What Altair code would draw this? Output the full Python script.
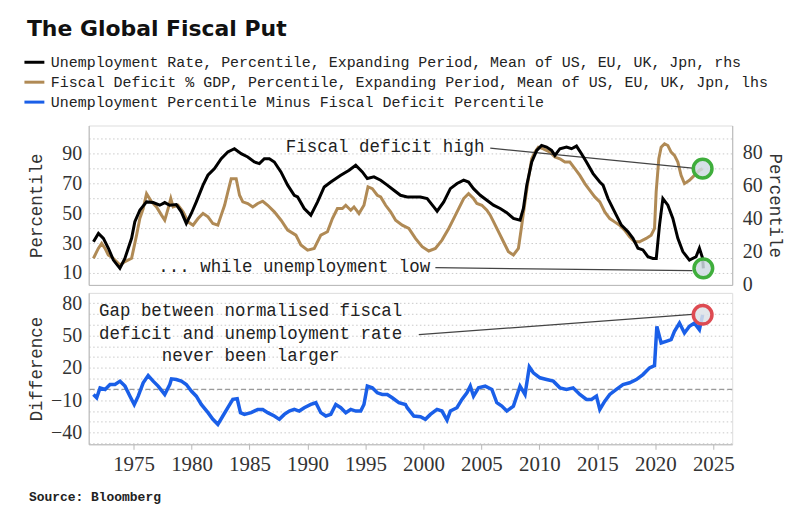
import altair as alt
import pandas as pd

# ---------------- data ----------------
series_names = [
    "Unemployment Rate, Percentile, Expanding Period, Mean of US, EU, UK, Jpn, rhs",
    "Fiscal Deficit % GDP, Percentile, Expanding Period, Mean of US, EU, UK, Jpn, lhs",
    "Unemployment Percentile Minus Fiscal Deficit Percentile",
]
series_colors = ["#000000", "#b08a55", "#1a5fe8"]

unemp_years = [1971.54, 1971.97, 1972.40, 1972.83, 1973.26, 1973.82, 1974.25, 1974.83, 1975.11, 1975.54,
               1976.12, 1976.69, 1977.26, 1977.69, 1978.12, 1978.69, 1979.12, 1979.55, 1979.98, 1980.41,
               1980.99, 1981.41, 1981.98, 1982.56, 1983.13, 1983.70, 1984.28, 1984.85, 1985.42, 1985.85,
               1986.28, 1986.71, 1987.14, 1987.71, 1988.29, 1988.86, 1989.15, 1989.72, 1990.29, 1990.87,
               1991.44, 1992.01, 1992.87, 1993.59, 1994.16, 1994.73, 1995.16, 1995.73, 1996.31, 1996.88,
               1997.45, 1998.02, 1998.60, 1999.17, 1999.74, 2000.32, 2000.89, 2001.18, 2001.75, 2002.32,
               2002.90, 2003.47, 2003.89, 2004.32, 2004.90, 2005.47, 2006.04, 2006.62, 2007.19, 2007.76,
               2008.33, 2008.62, 2008.91, 2009.34, 2009.77, 2010.19, 2010.62, 2011.05, 2011.34, 2011.77,
               2012.34, 2012.77, 2013.20, 2013.63, 2014.06, 2014.63, 2015.21, 2015.49, 2015.92, 2016.49,
               2017.07, 2017.64, 2018.07, 2018.50, 2018.93, 2019.36, 2019.79, 2020.08, 2020.36, 2020.65,
               2021.08, 2021.51, 2021.94, 2022.37, 2022.94, 2023.51, 2023.80, 2024.08, 2024.14]
unemp_vals = [26.1, 31.1, 28.1, 22.1, 15.0, 10.0, 16.0, 28.1, 38.1, 45.1,
              50.1, 49.7, 48.1, 49.7, 48.1, 48.5, 44.1, 37.1, 43.1, 50.1,
              60.2, 66.2, 70.2, 76.2, 80.2, 82.2, 79.2, 77.2, 74.2, 73.2,
              76.2, 76.2, 74.2, 68.2, 60.2, 54.1, 53.1, 46.1, 42.1, 50.1,
              59.1, 62.1, 66.2, 69.2, 72.2, 68.2, 64.2, 65.2, 63.2, 60.2,
              57.1, 54.1, 53.1, 53.1, 53.1, 52.1, 47.1, 44.5, 50.1, 58.1,
              61.2, 63.2, 62.1, 58.1, 54.1, 51.1, 48.1, 46.1, 43.6, 40.1,
              39.1, 46.1, 60.2, 74.2, 81.2, 84.2, 83.2, 81.2, 78.2, 82.2,
              83.2, 82.2, 83.8, 79.2, 74.2, 67.2, 62.1, 60.2, 52.1, 44.1,
              36.1, 32.1, 28.1, 22.1, 21.1, 17.0, 16.0, 16.0, 36.1, 52.1,
              48.1, 40.1, 28.1, 20.1, 15.0, 17.0, 22.1, 16.0, 10.0]

fiscal_years = [1971.54, 1971.96, 1972.25, 1972.54, 1972.82, 1973.25, 1973.83, 1974.26, 1974.83, 1975.26,
                1975.54, 1975.83, 1976.12, 1976.55, 1976.98, 1977.41, 1977.69, 1977.98, 1978.21, 1978.41,
                1978.84, 1979.27, 1979.70, 1980.13, 1980.56, 1980.99, 1981.42, 1981.84, 1982.27, 1982.56,
                1982.85, 1983.13, 1983.42, 1983.85, 1984.14, 1984.42, 1984.85, 1985.28, 1985.71, 1986.14,
                1986.57, 1987.14, 1987.72, 1988.29, 1989.00, 1989.43, 1990.01, 1990.58, 1991.15, 1991.72,
                1992.15, 1992.58, 1993.01, 1993.30, 1993.73, 1994.01, 1994.44, 1994.87, 1995.22, 1995.59,
                1996.02, 1996.31, 1996.74, 1997.17, 1997.60, 1998.17, 1998.74, 1999.31, 1999.89, 2000.46,
                2001.03, 2001.60, 2002.18, 2002.61, 2003.04, 2003.47, 2003.89, 2004.32, 2004.61, 2005.04,
                2005.47, 2005.76, 2006.19, 2006.62, 2006.90, 2007.33, 2007.76, 2008.19, 2008.48, 2008.76,
                2009.05, 2009.34, 2009.62, 2009.91, 2010.34, 2010.91, 2011.34, 2011.77, 2012.20, 2012.63,
                2013.06, 2013.49, 2013.92, 2014.35, 2014.78, 2015.21, 2015.64, 2016.07, 2016.49, 2016.92,
                2017.35, 2017.78, 2018.21, 2018.64, 2019.21, 2019.64, 2019.93, 2020.07, 2020.30, 2020.50,
                2020.79, 2021.08, 2021.36, 2021.65, 2021.94, 2022.22, 2022.51, 2022.94, 2023.37, 2023.80,
                2024.08]
fiscal_vals = [19.8, 26.4, 29.8, 26.4, 22.0, 19.8, 15.3, 17.6, 19.8, 35.3,
               46.4, 53.1, 63.1, 57.6, 54.2, 48.7, 45.3, 53.1, 59.8, 54.2,
               55.3, 50.9, 44.2, 42.0, 46.4, 49.8, 47.6, 43.1, 42.0, 48.7,
               55.3, 64.2, 73.1, 73.1, 62.0, 57.6, 56.5, 54.2, 56.5, 58.0,
               55.3, 50.9, 45.3, 38.7, 35.3, 28.7, 25.3, 26.4, 35.3, 37.6,
               46.4, 53.1, 53.1, 55.3, 52.0, 54.2, 49.8, 55.3, 67.6, 66.4,
               62.0, 60.9, 55.3, 50.9, 45.3, 42.0, 39.8, 33.1, 27.6, 24.7,
               26.4, 32.0, 39.8, 46.4, 53.1, 59.8, 63.1, 59.8, 56.5, 55.3,
               52.0, 48.7, 42.0, 35.3, 30.9, 24.2, 22.0, 26.4, 42.0, 57.6,
               73.1, 86.4, 90.9, 94.2, 93.1, 90.9, 87.6, 86.4, 84.2, 84.2,
               79.8, 75.3, 69.8, 65.3, 60.9, 57.6, 50.9, 46.4, 44.2, 42.0,
               38.7, 34.2, 30.9, 30.9, 33.1, 35.3, 39.8, 64.2, 86.4, 94.2,
               96.4, 95.3, 90.9, 88.7, 84.2, 75.3, 69.8, 72.0, 75.3, 78.7,
               79.8]

diff_years = [1971.54, 1971.82, 1972.11, 1972.54, 1972.97, 1973.40, 1973.83, 1974.26, 1974.69, 1975.06,
              1975.40, 1975.83, 1976.26, 1976.69, 1977.12, 1977.69, 1978.12, 1978.27, 1978.69, 1979.12,
              1979.55, 1979.98, 1980.41, 1980.84, 1981.42, 1981.84, 1982.27, 1982.70, 1983.13, 1983.56,
              1983.94, 1984.22, 1984.56, 1985.14, 1985.71, 1986.14, 1986.57, 1987.14, 1987.57, 1988.00,
              1988.43, 1988.86, 1989.29, 1989.72, 1990.29, 1990.72, 1991.15, 1991.58, 1992.01, 1992.44,
              1992.87, 1993.30, 1993.73, 1994.16, 1994.59, 1994.87, 1995.16, 1995.59, 1996.02, 1996.45,
              1996.88, 1997.31, 1997.88, 1998.45, 1998.60, 1999.17, 1999.74, 2000.17, 2000.60, 2001.17,
              2001.60, 2002.03, 2002.32, 2002.89, 2003.32, 2003.75, 2004.04, 2004.32, 2004.75, 2005.33,
              2005.90, 2006.33, 2006.76, 2007.19, 2007.76, 2008.33, 2008.76, 2009.13, 2009.48, 2010.05,
              2010.62, 2011.20, 2011.77, 2012.34, 2012.91, 2013.49, 2014.06, 2014.49, 2014.92, 2015.21,
              2015.64, 2016.07, 2016.64, 2017.21, 2017.78, 2018.36, 2018.93, 2019.50, 2019.93, 2020.13,
              2020.50, 2020.93, 2021.36, 2021.65, 2022.08, 2022.51, 2022.94, 2023.37, 2023.80, 2024.08]
diff_vals = [-4.6, -7.7, 1.5, 0.0, 4.6, 4.6, 7.7, 3.1, -6.2, -13.9,
             -6.2, 6.2, 12.9, 7.7, 3.1, -4.6, 4.6, 9.8, 9.2, 7.7,
             4.6, -1.5, -6.2, -13.9, -21.5, -27.7, -32.3, -24.6, -16.9, -9.2,
             -8.6, -21.5, -23.1, -21.5, -18.5, -18.5, -21.5, -24.6, -27.7, -23.1,
             -20.0, -18.5, -20.0, -16.9, -13.9, -12.3, -21.5, -24.6, -23.1, -13.9,
             -16.9, -21.5, -18.5, -20.0, -20.0, -13.9, 3.1, 1.5, -3.1, -4.6,
             -4.6, -7.7, -12.3, -13.9, -16.9, -24.6, -25.2, -27.7, -23.1, -18.5,
             -20.0, -28.3, -20.0, -16.9, -9.2, -3.1, 3.1, -6.2, 1.5, 3.1,
             0.0, -12.3, -15.4, -20.0, -15.4, 3.1, -4.6, 20.9, 15.4, 10.8,
             9.2, 7.7, 1.5, 0.0, 1.5, -4.6, -9.2, -9.2, -6.2, -18.5,
             -10.8, -4.6, 0.0, 4.6, 6.2, 9.2, 13.8, 20.0, 22.1, 58.5,
             43.1, 44.6, 46.2, 53.8, 61.5, 52.3, 58.5, 61.5, 55.4, 69.2]

x_ticks = [1975, 1980, 1985, 1990, 1995, 2000, 2005, 2010, 2015, 2020, 2025]
left_ticks = [10, 20, 30, 40, 50, 60, 70, 80, 90, 100]
right_ticks = [0, 20, 40, 60, 80]
diff_ticks = [-50, -40, -30, -20, -10, 0, 10, 20, 30, 40, 50, 60, 70, 80]
zero_line = [0]

top_note_texts = ["Fiscal deficit high", "... while unemployment low"]
top_note_x = [1996.7, 1988.86]
top_note_y = [94.2, 14.2]
top_link_x = [2005.76, 2001.03]
top_link_y = [93.5, 13.5]
top_link_x2 = [2023.2, 2023.2]
top_link_y2 = [80.2, 11.5]

gap_text = ["Gap between normalised fiscal\ndeficit and unemployment rate\nnever been larger"]
gap_x = [1985.1]
gap_y = [72.3]
gap_link_x = [1999.6]
gap_link_y = [50.8]
gap_link_x2 = [2023.2]
gap_link_y2 = [69.5]

# ---------------- styling ----------------
SERIF = "Liberation Serif"
MONO = "Liberation Mono"
AXIS_GRAY = "#b8b8b8"
GRID_GRAY = "#c9c9c9"

fiscal_df = pd.DataFrame({"year": fiscal_years, "value": fiscal_vals, "series": series_names[1]})
unemp_df = pd.DataFrame({"year": unemp_years, "value": unemp_vals, "series": series_names[0]})
diff_df = pd.DataFrame({"year": diff_years, "value": diff_vals, "series": series_names[2]})

top_notes_df = pd.DataFrame({"year": top_note_x, "value": top_note_y, "label": top_note_texts})
top_links_df = pd.DataFrame({"year": top_link_x, "value": top_link_y, "year2": top_link_x2, "value2": top_link_y2})
gap_df = pd.DataFrame({"year": gap_x, "value": gap_y, "label": gap_text})
gap_link_df = pd.DataFrame({"year": gap_link_x, "value": gap_link_y, "year2": gap_link_x2, "value2": gap_link_y2})
fiscal_end_df = pd.DataFrame({"year": fiscal_years[-1:], "value": fiscal_vals[-1:]})
unemp_end_df = pd.DataFrame({"year": unemp_years[-1:], "value": unemp_vals[-1:]})
diff_end_df = pd.DataFrame({"year": diff_years[-1:], "value": diff_vals[-1:]})
zero_df = pd.DataFrame({"value": zero_line})

xscale = alt.Scale(domain=[1971.13, 2026.63], nice=False, zero=False)
left_scale = alt.Scale(domain=[2, 108.7], nice=False, zero=False)
right_scale = alt.Scale(domain=[0, 96.2], nice=False, zero=False)
diff_scale = alt.Scale(domain=[-50.8, 89.5], nice=False, zero=False)

x_axis_top = alt.Axis(labels=False, ticks=False, grid=False, domainColor=AXIS_GRAY, title=None)
x_axis_bottom = alt.Axis(values=x_ticks, format="d", labelFont=SERIF, labelFontSize=21, labelColor="#333333",
                         tickSize=5, tickColor=AXIS_GRAY, domainColor=AXIS_GRAY, grid=False, labelPadding=4,
                         labelFlush=False, title=None)

common_y = dict(ticks=False, domainColor=AXIS_GRAY, labelFont=SERIF, labelFontSize=20, labelColor="#333333",
                titleFont=MONO, titleFontSize=17.5, titleFontWeight="normal", titleColor="#333333",
                titleBaseline="middle", titleAlign="center")

left_axis = alt.Axis(values=left_ticks, labelExpr="datum.value % 20 == 10 ? datum.label : ''",
                     grid=True, gridColor=GRID_GRAY, gridDash=[1.5, 2.5], labelPadding=7,
                     title="Percentile", titleX=-52, titleY=80, titleAngle=270, **common_y)
right_axis = alt.Axis(values=right_ticks, orient="right", grid=False, labelPadding=10,
                      title="Percentile", titleX=42, titleY=80, titleAngle=90, **common_y)
diff_axis = alt.Axis(values=diff_ticks, labelExpr="(datum.value + 40) % 30 == 0 ? datum.label : ''",
                     grid=True, gridColor=GRID_GRAY, gridDash=[1.5, 2.5], labelPadding=7,
                     title="Difference", titleX=-52, titleY=76, titleAngle=270, **common_y)

color = alt.Color("series:N", scale=alt.Scale(domain=series_names, range=series_colors),
                  legend=alt.Legend(orient="none", legendX=-66, legendY=-75, direction="vertical", title=None,
                                    symbolType="stroke", symbolStrokeWidth=3, symbolSize=400,
                                    labelFont=MONO, labelFontSize=15, labelColor="#222222",
                                    labelOffset=5, rowPadding=-1, labelLimit=900))


def XT():
    return alt.X("year:Q", scale=xscale, axis=x_axis_top)


def XB():
    return alt.X("year:Q", scale=xscale, axis=x_axis_bottom)


def LY(field="value"):
    return alt.Y(f"{field}:Q", scale=left_scale, axis=left_axis)


def RY(field="value"):
    return alt.Y(f"{field}:Q", scale=right_scale, axis=right_axis)


def DY(field="value"):
    return alt.Y(f"{field}:Q", scale=diff_scale, axis=diff_axis)


# ---------------- top panel ----------------
fiscal_line = alt.Chart(fiscal_df).mark_line(strokeWidth=3).encode(x=XT(), y=LY(), color=color)
top_links = alt.Chart(top_links_df).mark_rule(color="#444444", strokeWidth=1.3).encode(
    x=XT(), y=LY(), x2="year2:Q", y2="value2:Q")
top_notes = alt.Chart(top_notes_df).mark_text(font=MONO, fontSize=17.5, color="#222222", align="center",
                                              baseline="middle").encode(x=XT(), y=LY(), text="label:N")
circle_top = alt.Chart(fiscal_end_df).mark_circle(size=350, fill="#cfdbe2", fillOpacity=0.85, stroke="#3fae3c",
                                                  strokeWidth=3.5, opacity=1).encode(x=XT(), y=LY())
left_group = alt.layer(fiscal_line, top_links, top_notes, circle_top)

unemp_line = alt.Chart(unemp_df).mark_line(strokeWidth=3).encode(x=XT(), y=RY(), color=color)
circle_bot = alt.Chart(unemp_end_df).mark_circle(size=350, fill="#cfdbe2", fillOpacity=0.85, stroke="#3fae3c",
                                                 strokeWidth=3.5, opacity=1).encode(x=XT(), y=RY())
right_group = alt.layer(unemp_line, circle_bot)

top = alt.layer(left_group, right_group).resolve_scale(y="independent").properties(width=646, height=160)

# ---------------- bottom panel ----------------
zero_rule = alt.Chart(zero_df).mark_rule(color="#9a9a9a", strokeDash=[5, 3], strokeWidth=1.2).encode(y=DY())
diff_line = alt.Chart(diff_df).mark_line(strokeWidth=3.5).encode(x=XB(), y=DY(), color=color)
gap_link = alt.Chart(gap_link_df).mark_rule(color="#444444", strokeWidth=1.3).encode(
    x=XB(), y=DY(), x2="year2:Q", y2="value2:Q")
gap_note = alt.Chart(gap_df).mark_text(font=MONO, fontSize=17.5, color="#222222", align="center",
                                       baseline="middle", lineBreak="\n", lineHeight=22.5).encode(
    x=XB(), y=DY(), text="label:N")
circle_red = alt.Chart(diff_end_df).mark_circle(size=350, fill="#dde3e8", fillOpacity=0.85, stroke="#de4b52",
                                                strokeWidth=3.5, opacity=1).encode(x=XB(), y=DY())

bottom = alt.layer(zero_rule, diff_line, gap_link, gap_note, circle_red).properties(
    width=646, height=152,
    title=alt.TitleParams("Source: Bloomberg", orient="bottom", anchor="start", frame="group", dx=-60,
                          offset=17, font=MONO, fontSize=13, fontWeight="bold", color="#222222"))

chart = alt.vconcat(top, bottom, spacing=8, bounds="flush").properties(
    title=alt.TitleParams("The Global Fiscal Put", anchor="start", frame="group", dx=-62, offset=10,
                          font="DejaVu Sans", fontSize=22, fontWeight="bold", color="#111111"),
    padding={"left": 15, "top": 9, "right": 5, "bottom": 5},
).configure_view(strokeWidth=0).configure(background="white")

chart.save("out.html", embed_options={"renderer": "svg", "actions": False})
